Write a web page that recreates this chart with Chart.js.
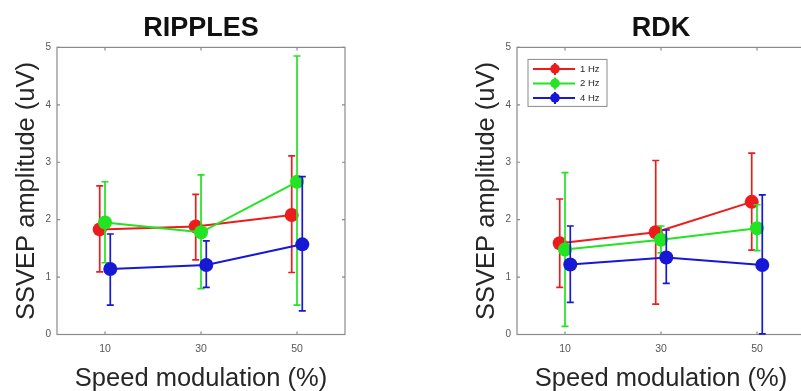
<!DOCTYPE html>
<html>
<head>
<meta charset="utf-8">
<script src="https://cdn.jsdelivr.net/npm/chart.js@4.4.1/dist/chart.umd.min.js"></script>
<style>
  html, body { margin: 0; padding: 0; background: #fff; overflow: hidden; width: 801px; height: 391px; }
  #ripples { position: absolute; left: 0; top: 0; }
  #rdk { position: absolute; left: 400px; top: 0; }
</style>
</head>
<body>
<canvas id="ripples" width="400" height="391"></canvas>
<canvas id="rdk" width="460" height="391"></canvas>
<script>
// speed modulation conditions and the 3 frequency series
const speeds = [10, 30, 50];
const yTicks = [0, 1, 2, 3, 4, 5];
const freqLabels = ['1 Hz', '2 Hz', '4 Hz'];
const freqColors = ['#ec1c1c', '#22e422', '#1717d6'];
const xShift = [-1.1, 0, 1.1]; // small jitter so bars don't overlap

// RIPPLES panel: rows = 1 Hz, 2 Hz, 4 Hz
const ripMean = [[1.83, 1.88, 2.08], [1.95, 1.78, 2.66], [1.14, 1.21, 1.57]];
const ripLow  = [[1.09, 1.30, 1.08], [1.25, 0.80, 0.51], [0.51, 0.82, 0.41]];
const ripHigh = [[2.59, 2.44, 3.11], [2.66, 2.78, 4.85], [1.75, 1.63, 2.75]];

// RDK panel
const rdkMean = [[1.59, 1.78, 2.31], [1.48, 1.65, 1.85], [1.22, 1.34, 1.21]];
const rdkLow  = [[0.82, 0.53, 1.47], [0.14, 1.42, 1.46], [0.56, 0.89, 0.01]];
const rdkHigh = [[2.36, 3.03, 3.16], [2.82, 1.89, 2.26], [1.89, 1.82, 2.43]];

const FONT = "'Liberation Sans', Arial, sans-serif";
const TXT = '#262626';
const BOX = '#8a8a8a';

// error bars, drawn just before each series so stacking matches
const errorBars = {
  id: 'errorBars',
  beforeDatasetDraw(chart, args) {
    const ds = chart.data.datasets[args.index];
    const xs = chart.scales.x, ys = chart.scales.y;
    const ctx = chart.ctx;
    ctx.save();
    ctx.strokeStyle = ds.borderColor;
    ctx.lineWidth = 1.7;
    ds.data.forEach((p, i) => {
      const x = xs.getPixelForValue(p.x);
      const y1 = ys.getPixelForValue(ds.errLow[i]);
      const y2 = ys.getPixelForValue(ds.errHigh[i]);
      ctx.beginPath();
      ctx.moveTo(x, y1); ctx.lineTo(x, y2);
      ctx.moveTo(x - 3.5, y1); ctx.lineTo(x + 3.5, y1);
      ctx.moveTo(x - 3.5, y2); ctx.lineTo(x + 3.5, y2);
      ctx.stroke();
    });
    ctx.restore();
  }
};

// matlab-like box with inward ticks
const axesBox = {
  id: 'axesBox',
  beforeDatasetsDraw(chart) {
    const {ctx, chartArea: a, scales} = chart;
    ctx.save();
    ctx.strokeStyle = BOX;
    ctx.lineWidth = 1.2;
    ctx.strokeRect(a.left, a.top, a.right - a.left, a.bottom - a.top);
    ctx.beginPath();
    speeds.forEach(v => {
      const x = scales.x.getPixelForValue(v);
      ctx.moveTo(x, a.bottom); ctx.lineTo(x, a.bottom - 3);
      ctx.moveTo(x, a.top); ctx.lineTo(x, a.top + 3);
    });
    yTicks.forEach(v => {
      const y = scales.y.getPixelForValue(v);
      ctx.moveTo(a.left, y); ctx.lineTo(a.left + 3, y);
      ctx.moveTo(a.right, y); ctx.lineTo(a.right - 3, y);
    });
    ctx.stroke();
    ctx.restore();
  }
};

// legend box inside the axes (only on RDK)
const boxLegend = {
  id: 'boxLegend',
  afterDraw(chart, args, opts) {
    if (!opts.show) return;
    const {ctx, chartArea: a} = chart;
    const bx = a.left + 11, by = a.top + 12, bw = 79, bh = 47;
    ctx.save();
    ctx.fillStyle = '#fff';
    ctx.fillRect(bx, by, bw, bh);
    ctx.strokeStyle = BOX;
    ctx.lineWidth = 1;
    ctx.strokeRect(bx, by, bw, bh);
    chart.data.datasets.forEach((ds, i) => {
      const y = by + 9.5 + i * 14.5;
      ctx.strokeStyle = ds.borderColor;
      ctx.lineWidth = 2;
      ctx.beginPath();
      ctx.moveTo(bx + 5, y); ctx.lineTo(bx + 47, y);
      ctx.moveTo(bx + 27, y - 6); ctx.lineTo(bx + 27, y + 6);
      ctx.stroke();
      ctx.fillStyle = ds.borderColor;
      ctx.beginPath();
      ctx.arc(bx + 27, y, 4.8, 0, Math.PI * 2);
      ctx.fill();
      ctx.fillStyle = TXT;
      ctx.font = '9.5px ' + FONT;
      ctx.textBaseline = 'middle';
      ctx.fillText(ds.label, bx + 52, y);
    });
    ctx.restore();
  }
};

function makePanel(id, title, means, lows, highs, padLeft, padRight, legend) {
  const datasets = freqLabels.map((lab, s) => ({
    label: lab,
    data: speeds.map((v, i) => ({x: v + xShift[s], y: means[s][i]})),
    errLow: lows[s],
    errHigh: highs[s],
    borderColor: freqColors[s],
    backgroundColor: freqColors[s],
    pointBackgroundColor: freqColors[s],
    pointBorderWidth: 0,
    pointRadius: 7,
    borderWidth: 2,
    tension: 0,
    order: 3 - s,
    clip: false
  }));
  return new Chart(document.getElementById(id), {
    type: 'line',
    data: {datasets},
    options: {
      responsive: false,
      animation: false,
      layout: {padding: {left: padLeft, right: padRight, top: 0, bottom: 0}},
      plugins: {
        legend: {display: false},
        tooltip: {enabled: false},
        title: {
          display: true, text: title, fullSize: false, color: '#111',
          font: {family: FONT, size: 27, weight: 'bold', lineHeight: 1.2},
          padding: {top: 12, bottom: 3}
        },
        boxLegend: {show: legend}
      },
      scales: {
        x: {
          type: 'linear', min: 0, max: 60,
          afterBuildTicks: sc => { sc.ticks = speeds.map(v => ({value: v})); },
          afterFit: sc => { sc.height = 56.5; },
          grid: {display: false, drawTicks: false},
          border: {display: false},
          ticks: {color: '#555', font: {family: FONT, size: 10.5}, padding: 8},
          title: {
            display: true, text: 'Speed modulation (%)', color: TXT,
            font: {family: FONT, size: 25.5, lineHeight: 1}, padding: {top: 0, bottom: -1}
          }
        },
        y: {
          min: 0, max: 5,
          afterBuildTicks: sc => { sc.ticks = yTicks.map(v => ({value: v})); },
          afterFit: sc => { sc.width = 57; },
          grid: {display: false, drawTicks: false},
          border: {display: false},
          ticks: {color: '#555', font: {family: FONT, size: 10}, padding: 6},
          title: {
            display: true, text: 'SSVEP amplitude (uV)', color: TXT,
            font: {family: FONT, size: 25.5, lineHeight: 1.2}, padding: {top: 12, bottom: 0}
          }
        }
      }
    },
    plugins: [errorBars, axesBox, boxLegend]
  });
}

makePanel('ripples', 'RIPPLES', ripMean, ripLow, ripHigh, 0, 55, false);
makePanel('rdk', 'RDK', rdkMean, rdkLow, rdkHigh, 60, 55, true);
</script>
</body>
</html>
